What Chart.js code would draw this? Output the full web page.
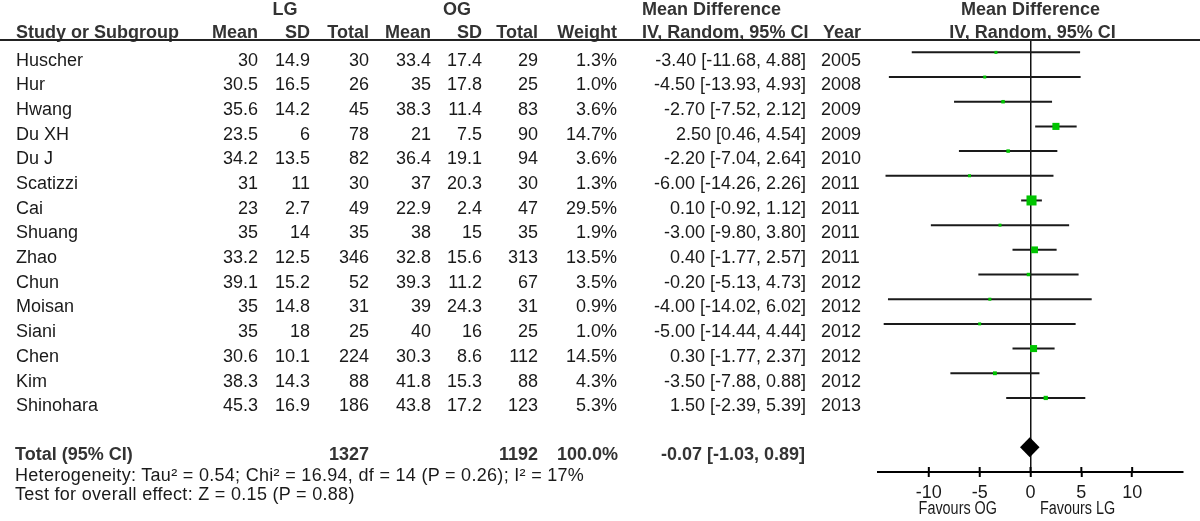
<!DOCTYPE html>
<html>
<head>
<meta charset="utf-8">
<script src="https://cdn.jsdelivr.net/npm/chart.js@4.4.1/dist/chart.umd.min.js"></script>
<style>
  body { margin: 0; background: #fff; }
  #wrap { position: relative; width: 1200px; height: 521px; overflow: hidden;
          font-family: "Liberation Sans", Arial, sans-serif; font-size: 18px; color: #1a1a1a; }
  #forest { position: absolute; left: 0; top: 0; }
  .t { position: absolute; white-space: nowrap; line-height: 20px; }
  .b { font-weight: bold; color: #333; }
  .cizgi { position: absolute; left: 0; width: 1200px; height: 2px; background: #222; }
</style>
</head>
<body>
<div id="wrap">
  <canvas id="forest" width="1200" height="521"></canvas>
  <div id="tablo"></div>
</div>
<script>
// calismalar (studies)
const calismalar = ['Huscher', 'Hur', 'Hwang', 'Du XH', 'Du J', 'Scatizzi', 'Cai', 'Shuang', 'Zhao', 'Chun', 'Moisan', 'Siani', 'Chen', 'Kim', 'Shinohara'];
const lgMean  = ['30', '30.5', '35.6', '23.5', '34.2', '31', '23', '35', '33.2', '39.1', '35', '35', '30.6', '38.3', '45.3'];
const lgSD    = ['14.9', '16.5', '14.2', '6', '13.5', '11', '2.7', '14', '12.5', '15.2', '14.8', '18', '10.1', '14.3', '16.9'];
const lgTotal = [30, 26, 45, 78, 82, 30, 49, 35, 346, 52, 31, 25, 224, 88, 186];
const ogMean  = ['33.4', '35', '38.3', '21', '36.4', '37', '22.9', '38', '32.8', '39.3', '39', '40', '30.3', '41.8', '43.8'];
const ogSD    = ['17.4', '17.8', '11.4', '7.5', '19.1', '20.3', '2.4', '15', '15.6', '11.2', '24.3', '16', '8.6', '15.3', '17.2'];
const ogTotal = [29, 25, 83, 90, 94, 30, 47, 35, 313, 67, 31, 25, 112, 88, 123];
const agirlik = [1.3, 1.0, 3.6, 14.7, 3.6, 1.3, 29.5, 1.9, 13.5, 3.5, 0.9, 1.0, 14.5, 4.3, 5.3];
const fark    = [-3.40, -4.50, -2.70, 2.50, -2.20, -6.00, 0.10, -3.00, 0.40, -0.20, -4.00, -5.00, 0.30, -3.50, 1.50];
const altSinir = [-11.68, -13.93, -7.52, 0.46, -7.04, -14.26, -0.92, -9.80, -1.77, -5.13, -14.02, -14.44, -1.77, -7.88, -2.39];
const ustSinir = [4.88, 4.93, 2.12, 4.54, 2.64, 2.26, 1.12, 3.80, 2.57, 4.73, 6.02, 4.44, 2.37, 0.88, 5.39];
const yillar  = [2005, 2008, 2009, 2009, 2010, 2011, 2011, 2011, 2011, 2012, 2012, 2012, 2012, 2012, 2013];

// toplam (pooled)
const toplamLG = 1327;
const toplamOG = 1192;
const toplamFark = -0.07;
const toplamAlt = -1.03;
const toplamUst = 0.89;

const xTicks = [-10, -5, 0, 5, 10];
const heterojenlik = 'Heterogeneity: Tau² = 0.54; Chi² = 16.94, df = 14 (P = 0.26); I² = 17%';
const genelEtki = 'Test for overall effect: Z = 0.15 (P = 0.88)';

const toplamSatir = calismalar.length + 1; // bos satirdan sonra

const fmt = v => v.toFixed(2);
const fmtW = v => v.toFixed(1) + '%';

// CI cizgileri, elmas ve eksen tikleri
const ormanPlugin = {
  id: 'orman',
  beforeDatasetsDraw(chart) {
    const ctx = chart.ctx, xs = chart.scales.x, ys = chart.scales.y;
    ctx.save();
    ctx.strokeStyle = '#1a1a1a';
    ctx.lineWidth = 2;
    calismalar.forEach((c, i) => {
      const y = ys.getPixelForValue(i);
      ctx.beginPath();
      ctx.moveTo(xs.getPixelForValue(altSinir[i]), y);
      ctx.lineTo(xs.getPixelForValue(ustSinir[i]), y);
      ctx.stroke();
    });
    ctx.restore();
  },
  afterDatasetsDraw(chart) {
    const ctx = chart.ctx, xs = chart.scales.x, ys = chart.scales.y;
    ctx.save();
    // elmas
    const y = ys.getPixelForValue(toplamSatir);
    ctx.fillStyle = '#000';
    ctx.beginPath();
    ctx.moveTo(xs.getPixelForValue(toplamAlt), y);
    ctx.lineTo(xs.getPixelForValue(toplamFark), y - 10);
    ctx.lineTo(xs.getPixelForValue(toplamUst), y);
    ctx.lineTo(xs.getPixelForValue(toplamFark), y + 10);
    ctx.closePath();
    ctx.fill();
    // tiklerin eksen ustu kismi
    const alt = chart.chartArea.bottom;
    ctx.strokeStyle = '#000';
    ctx.lineWidth = 2;
    xTicks.forEach(v => {
      const x = xs.getPixelForValue(v);
      ctx.beginPath();
      ctx.moveTo(x, alt - 5);
      ctx.lineTo(x, alt);
      ctx.stroke();
    });
    ctx.restore();
  }
};

const ctx = document.getElementById('forest').getContext('2d');
const grafik = new Chart(ctx, {
  type: 'scatter',
  data: {
    datasets: [{
      data: calismalar.map((c, i) => ({ x: fark[i], y: i })),
      pointStyle: 'rect',
      backgroundColor: '#00c400',
      borderWidth: 0,
      pointRadius: c => Math.max(3, 1.85 * Math.sqrt(agirlik[c.dataIndex])) / Math.SQRT2,
      pointHoverRadius: c => Math.max(3, 1.85 * Math.sqrt(agirlik[c.dataIndex])) / Math.SQRT2
    }]
  },
  options: {
    responsive: false,
    animation: false,
    events: [],
    layout: { padding: { left: 878, right: 17, top: 40, bottom: 0 } },
    plugins: { legend: { display: false }, tooltip: { enabled: false } },
    scales: {
      x: {
        type: 'linear',
        min: -15,
        max: 15,
        afterBuildTicks: s => { s.ticks = xTicks.map(v => ({ value: v })); },
        afterFit: s => { s.height = 49; },
        grid: {
          color: c => (c.tick && c.tick.value === 0) ? '#111' : 'rgba(0,0,0,0)',
          lineWidth: 1.5,
          drawTicks: true,
          tickLength: 5,
          tickColor: '#000',
          tickWidth: 2
        },
        border: { display: true, color: '#000', width: 2 },
        ticks: {
          color: '#1a1a1a',
          padding: 5,
          maxRotation: 0,
          font: { family: 'Liberation Sans', size: 18 }
        }
      },
      y: {
        type: 'linear',
        display: false,
        reverse: true,
        min: -0.5,
        max: 17
      }
    }
  },
  plugins: [ormanPlugin]
});

// tablo metinleri
const tablo = document.getElementById('tablo');
function yaz(metin, x, taban, hiza, kalin) {
  const d = document.createElement('div');
  d.className = 't' + (kalin ? ' b' : '');
  d.textContent = metin;
  d.style.top = (taban - 16.25) + 'px';
  if (hiza === 'right') {
    d.style.right = (1200 - x) + 'px';
  } else if (hiza === 'center') {
    d.style.left = (x - 200) + 'px';
    d.style.width = '400px';
    d.style.textAlign = 'center';
  } else {
    d.style.left = x + 'px';
  }
  tablo.appendChild(d);
  return d;
}

const xs = grafik.scales.x, ys = grafik.scales.y;
const sifirX = xs.getPixelForValue(0);
const ortaX = (grafik.chartArea.left + grafik.chartArea.right) / 2;

// basliklar
yaz('LG', 285, 15, 'center', true);
yaz('OG', 457, 15, 'center', true);
yaz('Mean Difference', 642, 15, 'left', true);
yaz('Mean Difference', ortaX, 15, 'center', true);
yaz('Study or Subgroup', 16, 38, 'left', true);
yaz('Mean', 258, 38, 'right', true);
yaz('SD', 310, 38, 'right', true);
yaz('Total', 369, 38, 'right', true);
yaz('Mean', 431, 38, 'right', true);
yaz('SD', 482, 38, 'right', true);
yaz('Total', 538, 38, 'right', true);
yaz('Weight', 617, 38, 'right', true);
yaz('IV, Random, 95% CI', 642, 38, 'left', true);
yaz('Year', 823, 38, 'left', true);
yaz('IV, Random, 95% CI', ortaX + 2, 38, 'center', true);

const cizgi = document.createElement('div');
cizgi.className = 'cizgi';
cizgi.style.top = (grafik.chartArea.top - 1) + 'px';
tablo.appendChild(cizgi);

// calisma satirlari
calismalar.forEach((c, i) => {
  const b = ys.getPixelForValue(i) + 13.5;
  yaz(c, 16, b, 'left');
  yaz(lgMean[i], 258, b, 'right');
  yaz(lgSD[i], 310, b, 'right');
  yaz(String(lgTotal[i]), 369, b, 'right');
  yaz(ogMean[i], 431, b, 'right');
  yaz(ogSD[i], 482, b, 'right');
  yaz(String(ogTotal[i]), 538, b, 'right');
  yaz(fmtW(agirlik[i]), 617, b, 'right');
  yaz(fmt(fark[i]) + ' [' + fmt(altSinir[i]) + ', ' + fmt(ustSinir[i]) + ']', 806, b, 'right');
  yaz(String(yillar[i]), 821, b, 'left');
});

// toplam satiri
const tb = ys.getPixelForValue(toplamSatir) + 13;
yaz('Total (95% CI)', 15, tb, 'left', true);
yaz(String(toplamLG), 369, tb, 'right', true);
yaz(String(toplamOG), 538, tb, 'right', true);
yaz('100.0%', 618, tb, 'right', true);
yaz(fmt(toplamFark) + ' [' + fmt(toplamAlt) + ', ' + fmt(toplamUst) + ']', 805, tb, 'right', true);
const h1 = yaz(heterojenlik, 15, tb + 21, 'left');
h1.style.letterSpacing = '0.3px';
const h2 = yaz(genelEtki, 15, tb + 40, 'left');
h2.style.letterSpacing = '0.3px';

// favours etiketleri
const f1 = yaz('Favours OG', sifirX - 33, 514, 'right');
f1.style.transform = 'scaleX(0.8)';
f1.style.transformOrigin = 'right center';
const f2 = yaz('Favours LG', sifirX + 9, 514, 'left');
f2.style.transform = 'scaleX(0.8)';
f2.style.transformOrigin = 'left center';
</script>
</body>
</html>
